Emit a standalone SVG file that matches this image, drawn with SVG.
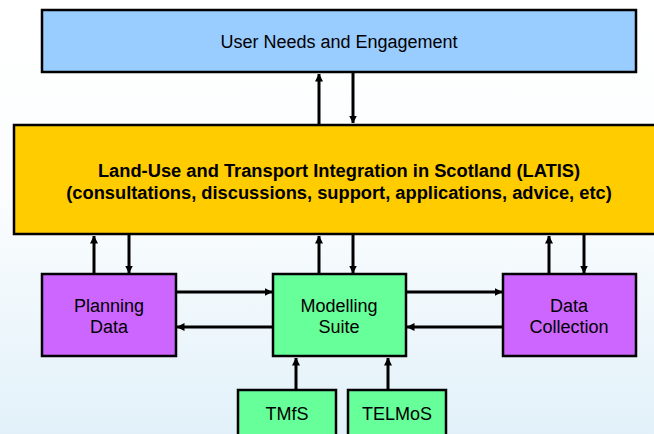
<svg xmlns="http://www.w3.org/2000/svg" width="654" height="434" viewBox="0 0 654 434">
<defs>
<linearGradient id="bg" x1="0" y1="0" x2="0" y2="1">
<stop offset="0" stop-color="#ffffff"/>
<stop offset="0.45" stop-color="#fbfdfe"/>
<stop offset="1" stop-color="#e2f1f9"/>
</linearGradient>
<marker id="ah" viewBox="0 0 8 8" refX="7.5" refY="4" markerWidth="8" markerHeight="8" markerUnits="userSpaceOnUse" orient="auto">
<path d="M0,0 L8,4 L0,8 Z" fill="#000"/>
</marker>
<style>
.box{stroke:#000;stroke-width:2.5}
.t{font-family:"Liberation Sans",Arial,sans-serif;font-size:18px;fill:#000;text-anchor:middle}
.b{font-family:"Liberation Sans",Arial,sans-serif;font-size:18.3px;font-weight:bold;fill:#000;text-anchor:middle}
.c{stroke:#000;stroke-width:3;fill:none;marker-end:url(#ah)}
</style>
</defs>
<rect x="0" y="0" width="654" height="434" fill="url(#bg)"/>
<g id="connectors">
<line class="c" x1="319" y1="125" x2="319" y2="74"/>
<line class="c" x1="353" y1="72" x2="353" y2="123"/>
<line class="c" x1="94" y1="274" x2="94" y2="236"/>
<line class="c" x1="129" y1="234" x2="129" y2="273"/>
<line class="c" x1="319" y1="274" x2="319" y2="236"/>
<line class="c" x1="353" y1="234" x2="353" y2="273"/>
<line class="c" x1="549" y1="274" x2="549" y2="236"/>
<line class="c" x1="584" y1="234" x2="584" y2="273"/>
<line class="c" x1="176" y1="292" x2="272" y2="292"/>
<line class="c" x1="273" y1="327" x2="177" y2="327"/>
<line class="c" x1="406" y1="292" x2="502" y2="292"/>
<line class="c" x1="503" y1="327" x2="407" y2="327"/>
<line class="c" x1="296" y1="390" x2="296" y2="358"/>
<line class="c" x1="388" y1="390" x2="388" y2="358"/>
</g>
<g id="user-needs">
<rect class="box" x="42" y="10" width="594" height="62" fill="#99ccff"/>
<text class="t" x="339" y="48">User Needs and Engagement</text>
</g>
<g id="latis">
<rect class="box" x="14" y="125" width="650" height="109" fill="#ffcc00"/>
<text class="b" x="339" y="177">Land-Use and Transport Integration in Scotland (LATIS)</text>
<text class="b" x="339" y="199">(consultations, discussions, support, applications, advice, etc)</text>
</g>
<g id="planning-data">
<rect class="box" x="42" y="274" width="134" height="82" fill="#cc66ff"/>
<text class="t" x="109" y="312">Planning</text>
<text class="t" x="109" y="333">Data</text>
</g>
<g id="modelling-suite">
<rect class="box" x="273" y="274" width="133" height="82" fill="#66ff99"/>
<text class="t" x="339" y="312">Modelling</text>
<text class="t" x="339" y="333">Suite</text>
</g>
<g id="data-collection">
<rect class="box" x="503" y="274" width="133" height="82" fill="#cc66ff"/>
<text class="t" x="569" y="312">Data</text>
<text class="t" x="569" y="333">Collection</text>
</g>
<g id="tmfs">
<rect class="box" x="238" y="390" width="98" height="60" fill="#66ff99"/>
<text class="t" x="287" y="420">TMfS</text>
</g>
<g id="telmos">
<rect class="box" x="348" y="390" width="98" height="60" fill="#66ff99"/>
<text class="t" x="397" y="420">TELMoS</text>
</g>
</svg>
